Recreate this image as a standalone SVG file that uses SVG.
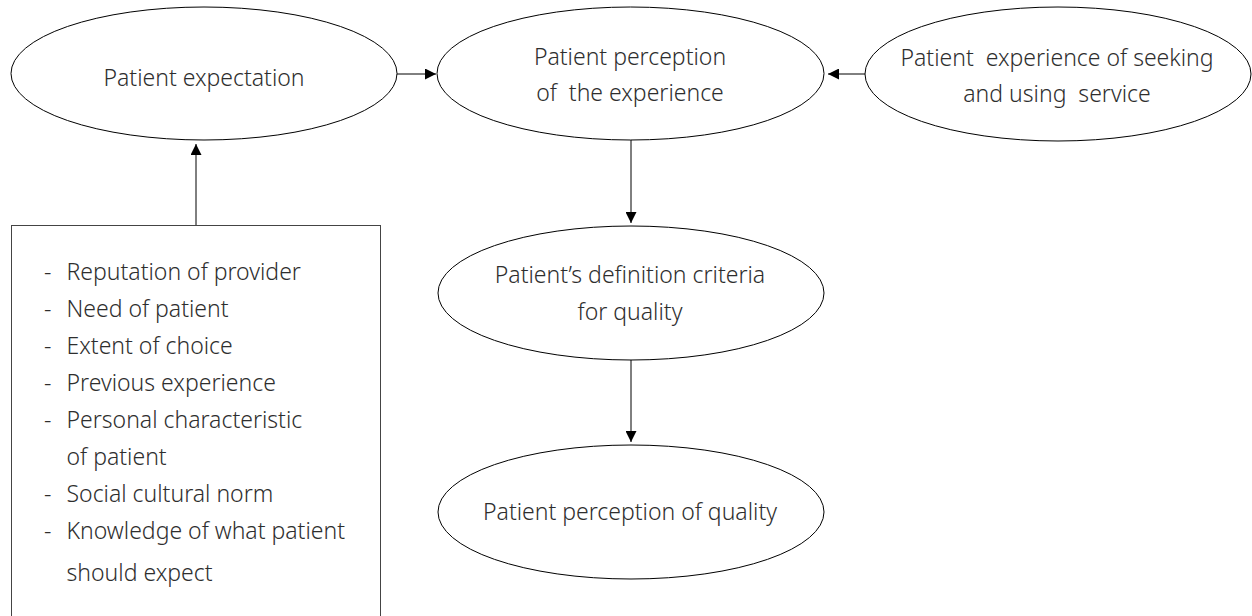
<svg xmlns="http://www.w3.org/2000/svg" width="1252" height="616" viewBox="0 0 1252 616">
  <style>
    .node { fill: #ffffff; stroke: #000000; stroke-width: 1; }
    .box { fill: #ffffff; stroke: #444444; stroke-width: 1; }
    .label { font-family: "Noto Sans", "Open Sans", sans-serif; font-size: 23px; font-weight: 300; fill: #2e2e2e; }
    .mid { text-anchor: middle; }
    .edge { stroke: #000000; stroke-width: 1; fill: none; marker-end: url(#arrow); }
  </style>
  <defs>
    <marker id="arrow" viewBox="0 0 11 11" refX="11" refY="5.5" markerWidth="11" markerHeight="11" markerUnits="userSpaceOnUse" orient="auto">
      <path d="M0,0 L11,5.5 L0,11 Z" fill="#000000"/>
    </marker>
  </defs>
  <rect width="1252" height="616" fill="#ffffff"/>

  <g id="connectors">
    <line class="edge" x1="397" y1="74" x2="436" y2="74"/>
    <line class="edge" x1="865" y1="74" x2="828" y2="74"/>
    <line class="edge" x1="196" y1="226" x2="196" y2="144"/>
    <line class="edge" x1="631" y1="140" x2="631" y2="223"/>
    <line class="edge" x1="631" y1="360" x2="631" y2="442"/>
  </g>

  <g id="patient-expectation">
    <ellipse class="node" cx="204" cy="73.5" rx="193" ry="66.5"/>
    <text class="label mid" x="204" y="86">Patient expectation</text>
  </g>

  <g id="perception-of-experience">
    <ellipse class="node" cx="630.5" cy="73.5" rx="193.5" ry="66.5"/>
    <text class="label mid" x="630" y="65">Patient perception</text>
    <text class="label mid" x="630" y="101" xml:space="preserve">of  the experience</text>
  </g>

  <g id="experience-of-service">
    <ellipse class="node" cx="1058" cy="74" rx="193" ry="67"/>
    <text class="label mid" x="1057" y="66" xml:space="preserve">Patient  experience of seeking</text>
    <text class="label mid" x="1057" y="102" xml:space="preserve">and using  service</text>
  </g>

  <g id="definition-criteria">
    <ellipse class="node" cx="631" cy="293" rx="193" ry="67"/>
    <text class="label mid" x="630" y="283">Patient’s definition criteria</text>
    <text class="label mid" x="630" y="320">for quality</text>
  </g>

  <g id="perception-of-quality">
    <ellipse class="node" cx="631" cy="512" rx="193" ry="67"/>
    <text class="label mid" x="630" y="520">Patient perception of quality</text>
  </g>

  <g id="expectation-factors">
    <rect class="box" x="11.5" y="225.5" width="369" height="400"/>
    <g class="label">
      <text x="44" y="279.5">-</text><text x="66.5" y="279.5">Reputation of provider</text>
      <text x="44" y="316.5">-</text><text x="66.5" y="316.5">Need of patient</text>
      <text x="44" y="353.5">-</text><text x="66.5" y="353.5">Extent of choice</text>
      <text x="44" y="390.5">-</text><text x="66.5" y="390.5">Previous experience</text>
      <text x="44" y="427.5">-</text><text x="66.5" y="427.5">Personal characteristic</text>
      <text x="66.5" y="464.5">of patient</text>
      <text x="44" y="501.5">-</text><text x="66.5" y="501.5">Social cultural norm</text>
      <text x="44" y="538.5">-</text><text x="66.5" y="538.5">Knowledge of what patient</text>
      <text x="66.5" y="581">should expect</text>
    </g>
  </g>
</svg>
